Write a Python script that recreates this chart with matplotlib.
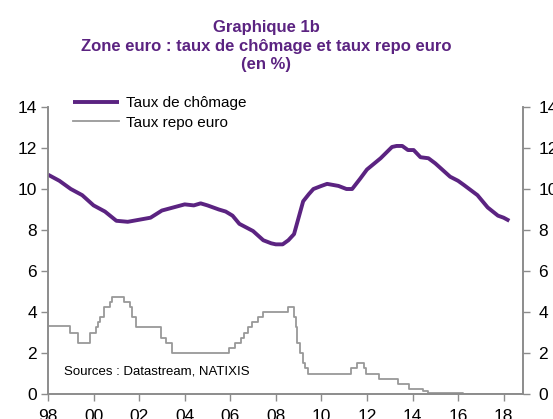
import numpy as np
import matplotlib.pyplot as plt

plt.rcParams['font.family'] = ['Liberation Sans', 'DejaVu Sans']

# Taux de chômage (zone euro, %)
chom_annee = [1998.0, 1998.5, 1999.0, 1999.5, 2000.0, 2000.5, 2001.0, 2001.5,
              2002.0, 2002.5, 2003.0, 2003.5, 2004.0, 2004.4, 2004.7, 2005.0,
              2005.5, 2005.8, 2006.1, 2006.4, 2007.0, 2007.45, 2007.8, 2008.0,
              2008.3, 2008.55, 2008.8, 2009.0, 2009.2, 2009.45, 2009.65, 2010.0,
              2010.25, 2010.75, 2011.1, 2011.35, 2011.7, 2012.0, 2012.6, 2013.1,
              2013.3, 2013.55, 2013.8, 2014.05, 2014.35, 2014.7, 2015.0, 2015.35,
              2015.65, 2016.0, 2016.25, 2016.85, 2017.3, 2017.75, 2018.0, 2018.25]
chom_val = [10.7, 10.4, 10.0, 9.7, 9.2, 8.9, 8.45, 8.4,
            8.5, 8.6, 8.95, 9.1, 9.25, 9.2, 9.3, 9.2,
            9.0, 8.9, 8.7, 8.3, 7.95, 7.5, 7.35, 7.3,
            7.3, 7.5, 7.8, 8.6, 9.4, 9.75, 10.0, 10.15,
            10.25, 10.15, 10.0, 10.0, 10.5, 10.95, 11.5, 12.05,
            12.1, 12.1, 11.9, 11.9, 11.55, 11.5, 11.25, 10.9,
            10.6, 10.4, 10.2, 9.7, 9.1, 8.7, 8.6, 8.45]

# Taux repo (dates de changement, %)
repo_annee = [1998.0, 1998.95, 1999.3, 1999.85, 2000.1, 2000.2, 2000.3, 2000.45,
              2000.7, 2000.8, 2001.35, 2001.6, 2001.7, 2001.85, 2002.95, 2003.2,
              2003.45, 2005.95, 2006.2, 2006.45, 2006.6, 2006.8, 2006.95, 2007.2,
              2007.45, 2008.55, 2008.8, 2008.87, 2008.95, 2009.05, 2009.2, 2009.3,
              2009.4, 2011.3, 2011.55, 2011.85, 2011.95, 2012.55, 2013.35, 2013.85,
              2014.45, 2014.7, 2016.2, 2018.75]
repo_val = [3.3, 3.0, 2.5, 3.0, 3.25, 3.5, 3.75, 4.25,
            4.5, 4.75, 4.5, 4.25, 3.75, 3.25, 2.75, 2.5,
            2.0, 2.25, 2.5, 2.75, 3.0, 3.25, 3.5, 3.75,
            4.0, 4.25, 3.75, 3.25, 2.5, 2.0, 1.5, 1.25,
            1.0, 1.25, 1.5, 1.25, 1.0, 0.75, 0.5, 0.25,
            0.15, 0.05, 0.0, 0.0]

ticks_x = [1998, 2000, 2002, 2004, 2006, 2008, 2010, 2012, 2014, 2016, 2018]
labels_x = ['98', '00', '02', '04', '06', '08', '10', '12', '14', '16', '18']

violet = '#5b2381'
gris = '#999999'
axe = '#8c8c8c'

fig = plt.figure(figsize=(5.53, 4.19), dpi=100)
ax = fig.add_axes([48 / 553, 25 / 419, 475 / 553, 287 / 419])

ax.plot(chom_annee, chom_val, color=violet, lw=2.8, solid_capstyle='butt',
        label='Taux de chômage', zorder=3)
ax.plot(repo_annee, repo_val, color=gris, lw=1.3, drawstyle='steps-post',
        label='Taux repo euro', zorder=2)

ax.set_xlim(1998, 2018.85)
ax.set_ylim(0, 14)
ax.set_xticks(ticks_x)
ax.set_xticklabels(labels_x)
ax.set_yticks(range(0, 15, 2))
ax.tick_params(axis='both', colors=axe, labelcolor='black', labelsize=12.5,
               length=5, width=1, direction='out')
ax.tick_params(axis='x', pad=6)
ax.tick_params(axis='y', pad=3)

ax2 = ax.twinx()
ax2.set_ylim(0, 14)
ax2.set_yticks(range(0, 15, 2))
ax2.tick_params(axis='y', colors=axe, labelcolor='black', labelsize=12.5,
                length=5, width=1, direction='out', pad=6)

for a in (ax, ax2):
    a.spines['top'].set_visible(False)
    for s in ('left', 'right', 'bottom'):
        a.spines[s].set_color(axe)
        a.spines[s].set_linewidth(1.2)

leg = ax.legend(loc='upper left', bbox_to_anchor=(0.023, 1.085), frameon=False,
                fontsize=11, handlelength=3.0, handletextpad=0.5,
                labelspacing=0.35)

ax.text(0.033, 0.08, 'Sources : Datastream, NATIXIS', transform=ax.transAxes,
        fontsize=9.5, va='center')

titre = 'Graphique 1b\nZone euro : taux de chômage et taux repo euro\n(en %)'
fig.text(266 / 553, 1 - 46 / 419, titre, ha='center', va='center',
         color=violet, fontsize=12, fontweight='bold', linespacing=1.3)

plt.savefig('out.png', dpi=100)
